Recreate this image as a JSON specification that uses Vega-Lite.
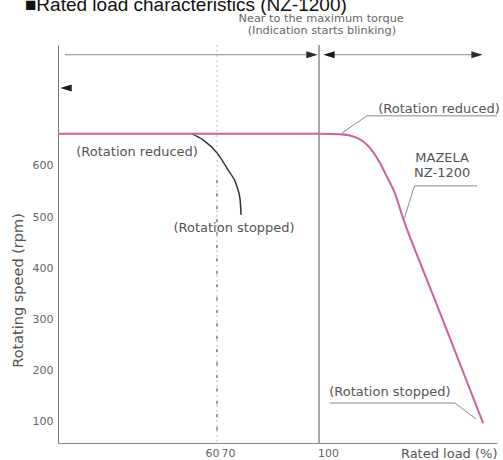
{
  "$schema": "https://vega.github.io/schema/vega-lite/v6.json",
  "width": 439,
  "height": 398,
  "autosize": {"type": "none"},
  "padding": {"left": 58, "top": 45, "right": 6, "bottom": 17},
  "background": "white",
  "config": {
    "view": {"stroke": null},
    "font": "DejaVu Sans",
    "text": {"font": "DejaVu Sans"}
  },
  "datasets": {
    "pink": [
      {"x": 0, "y": 662.5}, {"x": 100.3, "y": 662.5}, {"x": 105.9, "y": 662},
      {"x": 110.7, "y": 654.7}, {"x": 114.3, "y": 635}, {"x": 117.1, "y": 606},
      {"x": 119.1, "y": 578.5}, {"x": 121.3, "y": 547}, {"x": 123.6, "y": 498},
      {"x": 129.2, "y": 397}, {"x": 134.8, "y": 299}, {"x": 146.1, "y": 98}
    ],
    "black": [
      {"x": 52.2, "y": 662.5}, {"x": 56.5, "y": 650.8}, {"x": 63.1, "y": 625.4},
      {"x": 70, "y": 592}, {"x": 73, "y": 559}, {"x": 74, "y": 533.6}, {"x": 74.3, "y": 504.3}
    ],
    "guides": [
      {"id": "A", "o": 1, "x": 150, "y": 697.7}, {"id": "A", "o": 2, "x": 113.5, "y": 697.7}, {"id": "A", "o": 3, "x": 106.5, "y": 664.5},
      {"id": "B", "o": 1, "x": 144.4, "y": 561}, {"id": "B", "o": 2, "x": 126.8, "y": 561}, {"id": "B", "o": 3, "x": 124.0, "y": 498.4},
      {"id": "C", "o": 1, "x": 103.1, "y": 137}, {"id": "C", "o": 2, "x": 138.2, "y": 137}, {"id": "C", "o": 3, "x": 144.1, "y": 106},
      {"id": "D", "o": 1, "x": 2.7, "y": 817}, {"id": "D", "o": 2, "x": 97.0, "y": 817},
      {"id": "E", "o": 1, "x": 103.0, "y": 817}, {"id": "E", "o": 2, "x": 143.0, "y": 817}
    ],
    "arrowsRight": [{"x": 97.7, "y": 817}, {"x": 144.4, "y": 817}],
    "arrowsLeft": [{"x": 102.8, "y": 817}, {"x": 3.1, "y": 752}],
    "notes": [
      {"label": "(Rotation reduced)", "x": 30.8, "y": 627},
      {"label": "(Rotation reduced)", "x": 133.7, "y": 712},
      {"label": "MAZELA", "x": 134.6, "y": 615.6},
      {"label": "NZ-1200", "x": 134.6, "y": 586},
      {"label": "(Rotation stopped)", "x": 72, "y": 479},
      {"label": "(Rotation stopped)", "x": 119.9, "y": 158.6}
    ],
    "topNotes": [
      {"label": "Near to the maximum torque", "x": 100.6, "y": 887},
      {"label": "(Indication starts blinking)", "x": 100.8, "y": 863.7}
    ],
    "title": [{"label": "■Rated load characteristics (NZ-1200)", "x": -12.9, "y": 902}],
    "vline": [{"x": 100}],
    "dashFull": [{"x": 63.1}],
    "dashDark": [{"x": 63.1, "y": 84, "y2": 573}]
  },
  "layer": [
    {
      "data": {"name": "vline"},
      "mark": {"type": "rule", "color": "#555", "strokeWidth": 1},
      "encoding": {
        "x": {
          "field": "x", "type": "quantitative",
          "scale": {"type": "linear", "domain": [0, 60, 70, 100, 150], "range": [0, 154, 170, 261, 439], "nice": false, "zero": false},
          "axis": {
            "title": "Rated load (%)",
            "values": [60, 70, 100],
            "grid": false, "ticks": false, "tickSize": 0,
            "domainColor": "#888", "domainWidth": 1,
            "labelFont": "DejaVu Sans", "labelFontSize": 11, "labelColor": "#666",
            "labelPadding": 4,
            "labelOffset": {"condition": {"test": "datum.value == 100", "value": 9}, "value": 0},
            "titleFont": "DejaVu Sans", "titleFontSize": 13, "titleFontWeight": "normal", "titleColor": "#555",
            "titleAnchor": "end", "titleAlign": "right", "titleBaseline": "middle", "titleX": 439, "titleY": 10
          }
        }
      }
    },
    {
      "data": {"name": "dashFull"},
      "mark": {"type": "rule", "color": "#cfcfcf", "strokeWidth": 1.3, "strokeDash": [2, 3]},
      "encoding": {"x": {"field": "x", "type": "quantitative"}}
    },
    {
      "data": {"name": "dashDark"},
      "mark": {"type": "rule", "color": "#444", "strokeWidth": 1, "strokeDash": [3, 10]},
      "encoding": {
        "x": {"field": "x", "type": "quantitative"},
        "y": {"field": "y", "type": "quantitative"},
        "y2": {"field": "y2"}
      }
    },
    {
      "data": {"name": "guides"},
      "mark": {"type": "line", "color": "#8a8a8a", "strokeWidth": 1, "clip": false},
      "encoding": {
        "x": {"field": "x", "type": "quantitative"},
        "y": {"field": "y", "type": "quantitative"},
        "detail": {"field": "id"},
        "order": {"field": "o"}
      }
    },
    {
      "data": {"name": "black"},
      "mark": {"type": "line", "color": "#333", "strokeWidth": 1.5, "interpolate": "monotone"},
      "encoding": {
        "x": {"field": "x", "type": "quantitative"},
        "y": {"field": "y", "type": "quantitative"}
      }
    },
    {
      "data": {"name": "pink"},
      "mark": {"type": "line", "color": "#d25f9c", "strokeWidth": 2, "interpolate": "monotone"},
      "encoding": {
        "x": {"field": "x", "type": "quantitative"},
        "y": {
          "field": "y", "type": "quantitative",
          "scale": {"domain": [59, 836], "nice": false, "zero": false},
          "axis": {
            "title": "Rotating speed (rpm)",
            "values": [100, 200, 300, 400, 500, 600],
            "grid": false, "ticks": false, "tickSize": 0,
            "domainColor": "#777", "domainWidth": 1,
            "labelFont": "DejaVu Sans", "labelFontSize": 11, "labelColor": "#666",
            "labelPadding": 5,
            "titleFont": "DejaVu Sans", "titleFontSize": 14.5, "titleFontWeight": "normal", "titleColor": "#555",
            "titleAngle": -90, "titleAlign": "center", "titleBaseline": "middle", "titleX": -40, "titleY": 245
          }
        }
      }
    },
    {
      "data": {"name": "arrowsRight"},
      "mark": {"type": "point", "shape": "M-1,-0.6L1,0L-1,0.6Z", "filled": true, "color": "#2a2a2a", "size": 130, "opacity": 1, "clip": false},
      "encoding": {
        "x": {"field": "x", "type": "quantitative"},
        "y": {"field": "y", "type": "quantitative"}
      }
    },
    {
      "data": {"name": "arrowsLeft"},
      "mark": {"type": "point", "shape": "M1,-0.6L-1,0L1,0.6Z", "filled": true, "color": "#1a1a1a", "size": 130, "opacity": 1, "clip": false},
      "encoding": {
        "x": {"field": "x", "type": "quantitative"},
        "y": {"field": "y", "type": "quantitative"}
      }
    },
    {
      "data": {"name": "notes"},
      "mark": {"type": "text", "font": "DejaVu Sans", "fontSize": 13, "color": "#555", "align": "center", "baseline": "middle", "clip": false},
      "encoding": {
        "x": {"field": "x", "type": "quantitative"},
        "y": {"field": "y", "type": "quantitative"},
        "text": {"field": "label"}
      }
    },
    {
      "data": {"name": "topNotes"},
      "mark": {"type": "text", "font": "DejaVu Sans", "fontSize": 11.3, "color": "#666", "align": "center", "baseline": "middle", "clip": false},
      "encoding": {
        "x": {"field": "x", "type": "quantitative"},
        "y": {"field": "y", "type": "quantitative"},
        "text": {"field": "label"}
      }
    },
    {
      "data": {"name": "title"},
      "mark": {"type": "text", "font": "Liberation Sans", "fontSize": 19, "color": "#111", "align": "left", "baseline": "alphabetic", "clip": false},
      "encoding": {
        "x": {"field": "x", "type": "quantitative"},
        "y": {"field": "y", "type": "quantitative"},
        "text": {"field": "label"}
      }
    }
  ]
}
